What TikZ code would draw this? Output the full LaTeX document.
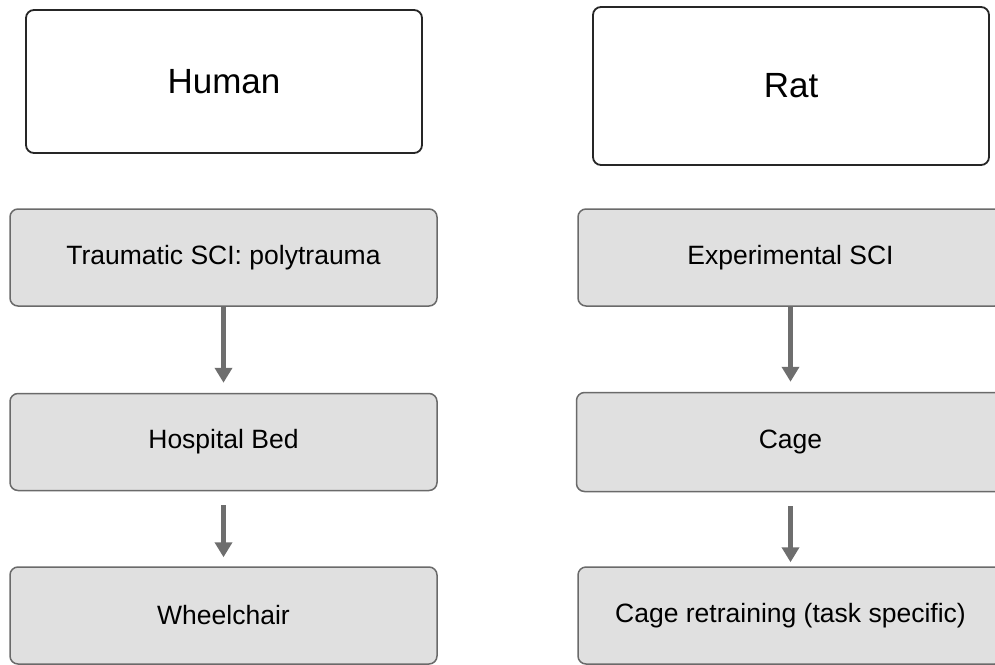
\documentclass[tikz,border=0pt]{standalone}
\usepackage{fontspec}
\setmainfont{Liberation Sans}
\usetikzlibrary{arrows.meta,positioning}
\definecolor{boxgray}{HTML}{E0E0E0}
\definecolor{rimgray}{HTML}{6A6A6A}
\definecolor{arrowgray}{HTML}{6E6E6E}
\tikzset{
  species/.style = {draw=black!85, line width=1.8pt, rounded corners=8pt, fill=white,
                    minimum width=396pt, font=\fontsize{35}{42}\selectfont},
  stage/.style   = {draw=rimgray, line width=1.5pt, rounded corners=8pt, fill=boxgray,
                    minimum width=427pt, minimum height=97pt, font=\fontsize{26.5}{32}\selectfont},
  pre/.style     = {{Triangle[width=17pt,length=15pt]}-, draw=arrowgray, line width=4.5pt}
}

\begin{document}
\begin{tikzpicture}[x=1pt,y=-1pt]
      \useasboundingbox (0,0) rectangle (995,664);
      \clip (0,0) rectangle (995,664);
      % human column
      \node[species, minimum height=143pt] (human) at (224,81.5) {Human};
      \node[stage] (trauma) at (223.5,257.5) {Traumatic SCI: polytrauma};
      \node[stage] (bed) at (223.5,442) {Hospital Bed}
      edge [pre, shorten <=10pt] (trauma);
      \node[stage] (chair) at (223.5,615.5) {Wheelchair}
      edge [pre, shorten <=9pt, shorten >=14pt] (bed);
      % rat column
      \node[species, minimum height=158pt] (rat) at (791,86) {Rat};
      \node[stage, minimum width=425pt] (experiment) at (790.5,257.5) {Experimental SCI};
      \node[stage, minimum width=428pt, minimum height=99pt] (cage) at (790.5,442) {Cage}
      edge [pre, shorten <=10pt] (experiment);
      \node[stage, minimum width=425pt] (retrain) at (790.5,615.5) {Cage retraining (task specific)}
      edge [pre, shorten <=4pt, shorten >=14pt] (cage);
    \end{tikzpicture}
\end{document}
